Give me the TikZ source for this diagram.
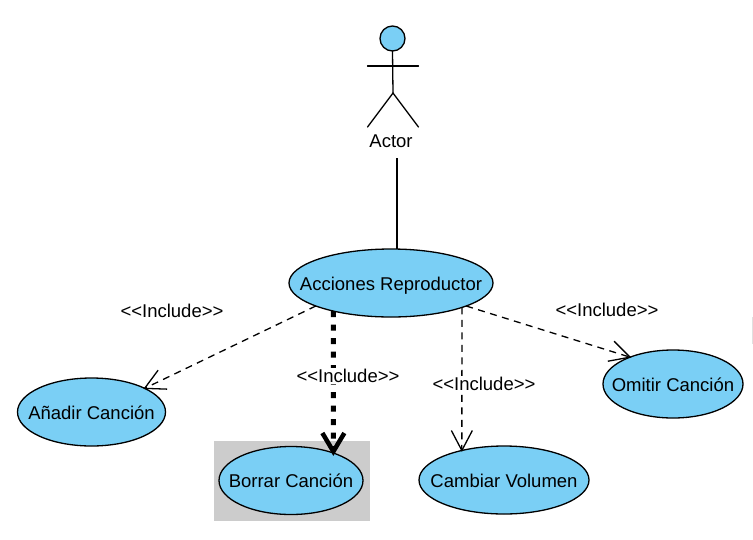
\documentclass[tikz,border=0pt]{standalone}
\usepackage{fontspec}
\setmainfont{Liberation Sans}
\usetikzlibrary{shapes.geometric}
\definecolor{ucblue}{RGB}{122,207,245}
\definecolor{ucgrey}{RGB}{204,204,204}
\newcommand{\zt}[1]{\raisebox{-7pt}[0pt][0pt]{\makebox[0pt][c]{#1}}}
\pgfarrowsdeclare{openv}{openv}{\pgfarrowsleftextend{-1pt}\pgfarrowsrightextend{0pt}}{%
  \pgfsetdash{}{0pt}\pgfsetlinewidth{1.3pt}\pgfsetmiterjoin
  \pgfpathmoveto{\pgfpoint{-20pt}{10.5pt}}\pgfpathlineto{\pgfpointorigin}\pgfpathlineto{\pgfpoint{-20pt}{-10.5pt}}\pgfusepathqstroke}
\pgfarrowsdeclare{openvbold}{openvbold}{\pgfarrowsleftextend{-1pt}\pgfarrowsrightextend{0pt}}{%
  \pgfsetdash{}{0pt}\pgfsetlinewidth{4.5pt}\pgfsetmiterjoin
  \pgfpathmoveto{\pgfpoint{-20pt}{11pt}}\pgfpathlineto{\pgfpoint{-1.5pt}{0pt}}\pgfpathlineto{\pgfpoint{-20pt}{-11pt}}\pgfusepathqstroke}
\tikzset{
  x=1pt,y=-1pt,
  usecase/.style={ellipse,draw=black,line width=1.3pt,fill=ucblue,inner sep=0pt,outer sep=0pt,font=\fontsize{18.5pt}{20pt}\selectfont},
  lbl/.style={font=\fontsize{18.5pt}{20pt}\selectfont,fill=white,inner sep=1.5pt},
  plainlbl/.style={font=\fontsize{18.5pt}{20pt}\selectfont,inner sep=0pt},
  inc/.style={line width=1.3pt,dash pattern=on 7pt off 5.5pt,-openv},
  incbold/.style={line width=5pt,dash pattern=on 6pt off 7.5pt,-openvbold},
  stick/.style={line width=1.3pt,line cap=round},
}
\begin{document}
\begin{tikzpicture}
\useasboundingbox (0,0) rectangle (753,539);
\fill[ucgrey] (214,441) rectangle (370,521);
\fill[black!12] (752,317) rectangle (753,344);

% actor
\node[circle,draw=black,line width=1.3pt,fill=ucblue,minimum size=25pt,inner sep=0pt,outer sep=0pt] (head) at (392.5,38.5) {};
\coordinate (hip) at (393,93);
\coordinate (armL) at (367.5,66);
\coordinate (armR) at (418.5,66);
\coordinate (footL) at (367.5,127);
\coordinate (footR) at (418.5,127);
\draw[stick] (head.south) -- (hip);
\draw[stick] (armL) -- (armR);
\draw[stick] (footL) -- (hip) -- (footR);
\node[plainlbl] (actor) at (391,141) {Actor};
\coordinate (actorend) at (397,158);

% use cases
\node[usecase,minimum width=204pt,minimum height=68pt] (main) at (391,283) {\zt{Acciones Reproductor}};
\node[usecase,minimum width=148pt,minimum height=68pt] (anadir) at (91.5,412) {\zt{Añadir Canción}};
\node[usecase,minimum width=144pt,minimum height=68pt] (borrar) at (291,480.5) {\zt{Borrar Canción}};
\node[usecase,minimum width=170pt,minimum height=68pt] (cambiar) at (504,480) {\zt{Cambiar Volumen}};
\node[usecase,minimum width=140pt,minimum height=68pt] (omitir) at (673,384) {\zt{Omitir Canción}};

% connectors
\draw[line width=1.3pt] (actorend) -- (actorend |- main.north);
\draw[inc] (main.197.7) -- (anadir.24.2);
\draw[incbold] (main.206.2) -- (borrar.33.2);
\draw[inc] (main.-19.5) -- (cambiar.145.4);
\draw[inc] (main.-17.7) -- (omitir.148);

% labels
\node[plainlbl] (l1) at (172,311) {<{}<Include>{}>};
\node[lbl] (l2) at (348,376) {<{}<Include>{}>};
\node[lbl] (l3) at (484,384) {<{}<Include>{}>};
\node[plainlbl] (l4) at (607,310) {<{}<Include>{}>};
\end{tikzpicture}
\end{document}
